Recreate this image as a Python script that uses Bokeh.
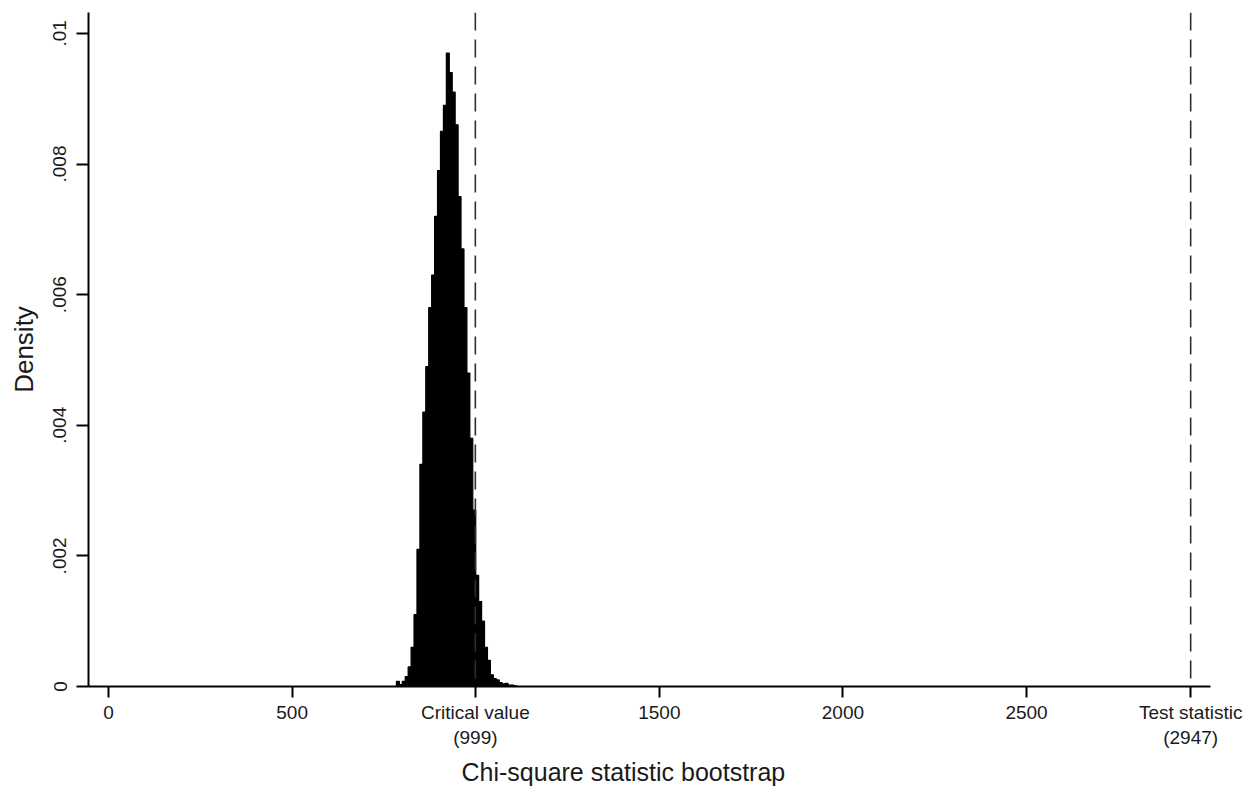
from bokeh.plotting import figure
from bokeh.models import FixedTicker, Span, Title, Range1d
from bokeh.embed import file_html
from bokeh.resources import INLINE

# Histogram bins (chi-square statistic, bootstrap replications)
bin_left = [784, 792, 800, 808, 816, 824, 832, 840, 848, 856, 864, 872, 880, 888,
            896, 904, 912, 920, 928, 936, 944, 952, 960, 968, 976, 984, 992, 1000,
            1008, 1016, 1024, 1032, 1040, 1048, 1056, 1064, 1072, 1080, 1088, 1096, 1104]
bin_width = 8
density = [0.00008, 0.00003, 0.00008, 0.00015, 0.0003, 0.0006, 0.0011, 0.0021, 0.0034,
           0.0042, 0.0049, 0.0058, 0.0063, 0.0072, 0.0079, 0.0085, 0.0089, 0.0097,
           0.0094, 0.0091, 0.0086, 0.0075, 0.0067, 0.0058, 0.0048, 0.0038, 0.0027,
           0.0017, 0.0013, 0.0010, 0.0006, 0.0004, 0.00018, 0.00012, 0.0001, 0.00006,
           0.00004, 0.00005, 0.00002, 0.00002, 0.00001]

critical_value = 999
test_statistic = 2947

x_ticks = [0, 500, 999, 1500, 2000, 2500, 2947]
x_tick_labels = ["0", "500", "Critical value\n(999)", "1500", "2000", "2500", "Test statistic\n(2947)"]
y_ticks = [0, 0.002, 0.004, 0.006, 0.008, 0.01]
y_tick_labels = ["0", ".002", ".004", ".006", ".008", ".01"]

x_title = "Chi-square statistic bootstrap"
y_title = "Density"

FONT = "Liberation Sans"
TEXT = "#1a1a1a"

p = figure(width=1255, height=791, output_backend="svg", toolbar_location=None,
           x_range=Range1d(-54.5, 3001), y_range=Range1d(0, 0.01032),
           min_border_left=88, min_border_right=45, min_border_top=12, min_border_bottom=22)
p.background_fill_color = "white"
p.border_fill_color = "white"
p.outline_line_color = None
p.xgrid.visible = False
p.ygrid.visible = False

right_edges = [b + bin_width for b in bin_left]
p.quad(left=bin_left, right=right_edges, bottom=0, top=density,
       fill_color="black", line_color="black", line_width=1.2)

for loc in (critical_value, test_statistic):
    p.add_layout(Span(location=loc, dimension="height", line_color="#2e2e2e",
                      line_width=1.6, line_dash="18 9"))

# x axis
xa = p.xaxis[0]
xa.ticker = FixedTicker(ticks=x_ticks)
xa.major_label_overrides = {t: l for t, l in zip(x_ticks, x_tick_labels)}
xa.minor_tick_line_color = None
xa.major_tick_in = 0
xa.major_tick_out = 11
xa.major_tick_line_width = 2
xa.axis_line_width = 2
xa.axis_line_color = "black"
xa.major_tick_line_color = "black"
xa.major_label_text_font = FONT
xa.major_label_text_font_size = "19px"
xa.major_label_text_color = TEXT
xa.major_label_standoff = 4

# y axis
ya = p.yaxis[0]
ya.ticker = FixedTicker(ticks=y_ticks)
ya.major_label_overrides = {t: l for t, l in zip(y_ticks, y_tick_labels)}
ya.minor_tick_line_color = None
ya.major_tick_in = 0
ya.major_tick_out = 12
ya.major_tick_line_width = 2
ya.axis_line_width = 2
ya.axis_line_color = "black"
ya.major_tick_line_color = "black"
ya.major_label_orientation = "vertical"
ya.major_label_text_font = FONT
ya.major_label_text_font_size = "19px"
ya.major_label_text_color = TEXT
ya.major_label_standoff = 10
ya.axis_label = y_title
ya.axis_label_text_font = FONT
ya.axis_label_text_font_size = "26px"
ya.axis_label_text_font_style = "normal"
ya.axis_label_text_color = TEXT
ya.axis_label_standoff = 12

# x-axis title, centred under the whole graph (as in the original)
p.add_layout(Title(text=x_title, align="left", offset=373, standoff=11,
                   text_font=FONT, text_font_size="25px", text_font_style="normal",
                   text_color=TEXT), "below")

open("out.html", "w").write(file_html(p, INLINE))
